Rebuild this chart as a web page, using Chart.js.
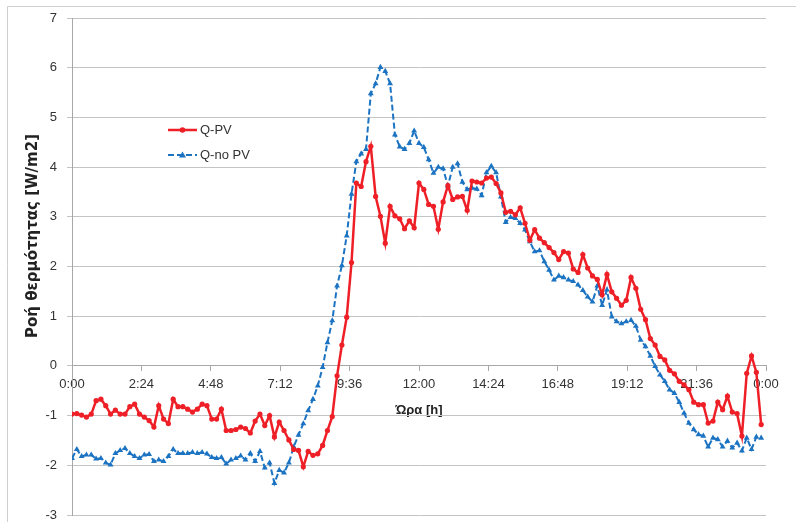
<!DOCTYPE html>
<html lang="el">
<head>
  <meta charset="UTF-8" />
  <title>Ροή θερμότητας</title>
  <script src="https://cdn.jsdelivr.net/npm/chart.js"></script>
  <style>
    html, body { margin: 0; padding: 0; background: #fff; }
    #wrap { width: 796px; height: 522px; }
  </style>
</head>
<body>
  <div id="wrap"><canvas id="chart" width="796" height="522"></canvas></div>

  <script>
    // time of day in minutes, one sample every 10 min
    const step = 10;
    const minutes = Array.from({ length: 144 }, (_, i) => i * step);

    const xTickValues = [0, 144, 288, 432, 576, 720, 864, 1008, 1152, 1296, 1440];
    const xTickLabels = ["0:00", "2:24", "4:48", "7:12", "9:36", "12:00", "14:24", "16:48", "19:12", "21:36", "0:00"];

    const qPV = [
      -0.97, -0.96, -0.99, -1.03, -0.97, -0.70, -0.67, -0.80, -0.97, -0.89,
      -0.97, -0.97, -0.82, -0.77, -0.97, -1.03, -1.10, -1.23, -0.80, -1.07,
      -1.16, -0.67, -0.82, -0.82, -0.87, -0.93, -0.87, -0.77, -0.80, -1.07,
      -1.07, -0.87, -1.30, -1.30, -1.28, -1.23, -1.26, -1.35, -1.11, -0.97,
      -1.20, -1.00, -1.43, -1.13, -1.30, -1.49, -1.68, -1.70, -2.03, -1.72,
      -1.80, -1.77, -1.60, -1.30, -1.02, -0.20, 0.42, 0.98, 2.08, 3.68,
      3.61, 4.11, 4.42, 3.41, 3.01, 2.47, 3.21, 3.02, 2.96, 2.76,
      2.92, 2.78, 3.68, 3.55, 3.25, 3.21, 2.75, 3.30, 3.63, 3.35,
      3.40, 3.41, 3.13, 3.72, 3.70, 3.68, 3.78, 3.80, 3.67, 3.48,
      3.09, 3.11, 3.04, 3.18, 2.87, 2.53, 2.74, 2.57, 2.48, 2.38,
      2.28, 2.14, 2.30, 2.27, 1.95, 1.88, 2.24, 1.97, 1.81, 1.74,
      1.43, 1.84, 1.49, 1.36, 1.22, 1.32, 1.78, 1.56, 1.14, 0.93,
      0.55, 0.42, 0.19, 0.12, -0.09, -0.16, -0.31, -0.38, -0.48, -0.73,
      -0.78, -0.78, -1.15, -1.11, -0.73, -0.88, -0.61, -0.93, -0.96, -1.41,
      -0.15, 0.20, -0.13, -1.18
    ];

    const qNoPV = [
      -1.86, -1.68, -1.82, -1.79, -1.79, -1.87, -1.86, -1.95, -1.99, -1.76,
      -1.70, -1.66, -1.76, -1.82, -1.86, -1.79, -1.78, -1.92, -1.89, -1.92,
      -1.82, -1.68, -1.76, -1.76, -1.76, -1.74, -1.76, -1.74, -1.77, -1.84,
      -1.86, -1.84, -1.97, -1.89, -1.86, -1.81, -1.89, -1.76, -1.92, -1.72,
      -2.05, -1.95, -2.36, -2.10, -2.15, -1.95, -1.63, -1.39, -1.16, -0.90,
      -0.67, -0.40, -0.03, 0.47, 0.91, 1.61, 2.02, 2.62, 3.46, 4.11,
      4.27, 4.36, 5.48, 5.68, 6.01, 5.93, 5.68, 4.65, 4.41, 4.36,
      4.48, 4.73, 4.48, 4.40, 4.15, 3.88, 4.00, 3.97, 3.62, 4.00,
      4.07, 3.70, 3.55, 3.58, 3.56, 3.43, 3.89, 4.02, 3.89, 3.40,
      2.89, 2.99, 2.97, 2.87, 2.74, 2.50, 2.30, 2.32, 2.10, 1.93,
      1.73, 1.81, 1.78, 1.73, 1.70, 1.63, 1.52, 1.39, 1.29, 1.61,
      1.22, 1.53, 0.99, 0.89, 0.85, 0.89, 0.92, 0.80, 0.52, 0.39,
      0.20, -0.01, -0.18, -0.31, -0.48, -0.55, -0.73, -0.95, -1.15, -1.28,
      -1.38, -1.41, -1.63, -1.45, -1.48, -1.63, -1.51, -1.65, -1.55, -1.71,
      -1.45, -1.68, -1.43, -1.45
    ];

    const seriesNames = ["Q-PV", "Q-no PV"];
    const yTitle = "Ροή θερμότητας [W/m2]";
    const xTitle = "Ώρα [h]";

    const red = "#ee1f26";
    const blue = "#1b73c2";
    const gridColor = "#c4c4c4";
    const textColor = "#333333";

    Chart.defaults.font.family = "'Liberation Sans', Arial, sans-serif";
    Chart.defaults.font.size = 13;
    Chart.defaults.color = textColor;

    const toPoints = vals => vals.map((v, i) => ({ x: minutes[i], y: v }));

    // white page + grey frame (only top and left edges are inside the picture)
    const frame = {
      id: "frame",
      beforeDraw(chart) {
        const ctx = chart.ctx;
        ctx.save();
        ctx.fillStyle = "#fff";
        ctx.fillRect(0, 0, chart.width, chart.height);
        ctx.strokeStyle = "#cfcfcf";
        ctx.lineWidth = 1;
        ctx.beginPath();
        ctx.moveTo(7.5, chart.height);
        ctx.lineTo(7.5, 6.5);
        ctx.lineTo(chart.width, 6.5);
        ctx.stroke();
        ctx.restore();
      }
    };

    // y title drawn by hand: in the original it sits above the axis centre
    const sideTitle = {
      id: "sideTitle",
      afterDraw(chart) {
        const ctx = chart.ctx;
        ctx.save();
        ctx.translate(33, 236);
        ctx.rotate(-Math.PI / 2);
        ctx.font = "bold 15px 'DejaVu Sans', sans-serif";
        ctx.fillStyle = "#222";
        ctx.textAlign = "center";
        ctx.textBaseline = "middle";
        ctx.fillText(yTitle, 0, 0);
        ctx.restore();
      }
    };

    // legend sits inside the plot, Excel style
    const innerLegend = {
      id: "innerLegend",
      afterDraw(chart) {
        const ctx = chart.ctx;
        const x0 = 168, x1 = 197, tx = 200;
        const rows = [130, 155];
        ctx.save();
        chart.data.datasets.forEach((ds, k) => {
          const y = rows[k];
          ctx.strokeStyle = ds.borderColor;
          ctx.lineWidth = ds.borderWidth;
          ctx.setLineDash(ds.borderDash || []);
          ctx.beginPath();
          ctx.moveTo(x0, y);
          ctx.lineTo(x1, y);
          ctx.stroke();
          ctx.setLineDash([]);
          ctx.fillStyle = ds.borderColor;
          const mx = (x0 + x1) / 2;
          if (ds.pointStyle === "triangle") {
            ctx.beginPath();
            ctx.moveTo(mx, y - 3.5);
            ctx.lineTo(mx + 3.5, y + 2.5);
            ctx.lineTo(mx - 3.5, y + 2.5);
            ctx.closePath();
            ctx.fill();
          } else {
            ctx.beginPath();
            ctx.arc(mx, y, 2.8, 0, Math.PI * 2);
            ctx.fill();
          }
          ctx.fillStyle = textColor;
          ctx.font = "13px " + Chart.defaults.font.family;
          ctx.textBaseline = "middle";
          ctx.textAlign = "left";
          ctx.fillText(ds.label, tx, y);
        });
        ctx.restore();
      }
    };

    new Chart(document.getElementById("chart"), {
      type: "line",
      data: {
        datasets: [
          {
            label: seriesNames[0],
            data: toPoints(qPV),
            borderColor: red,
            backgroundColor: red,
            borderWidth: 2.5,
            pointStyle: "circle",
            pointRadius: 2.6,
            pointBorderWidth: 0,
            tension: 0
          },
          {
            label: seriesNames[1],
            data: toPoints(qNoPV),
            borderColor: blue,
            backgroundColor: blue,
            borderWidth: 2,
            borderDash: [6, 3],
            pointStyle: "triangle",
            pointRadius: 3.4,
            pointBorderWidth: 0,
            tension: 0
          }
        ]
      },
      options: {
        responsive: false,
        animation: false,
        layout: { padding: { left: 14, right: 30, top: 18, bottom: 7 } },
        plugins: {
          legend: { display: false },
          tooltip: { enabled: false }
        },
        scales: {
          x: {
            type: "linear",
            min: 0,
            max: 1440,
            position: { y: 0 },
            afterBuildTicks: s => { s.ticks = xTickValues.map(v => ({ value: v })); },
            afterFit: s => { s.paddingTop = 0; s.paddingBottom = 0; },
            ticks: {
              autoSkip: false,
              maxRotation: 0,
              padding: 6,
              color: textColor,
              callback: (v, i) => xTickLabels[i]
            },
            grid: {
              drawOnChartArea: false,
              drawTicks: true,
              tickLength: 5,
              color: "#a8a8a8"
            },
            border: { color: "#a8a8a8" },
            title: {
              display: true,
              text: xTitle,
              font: { weight: "bold", size: 13 },
              padding: { top: 4, bottom: 0 },
              color: "#222"
            }
          },
          y: {
            min: -3,
            max: 7,
            afterFit: s => { s.width = 58; s.paddingTop = 0; s.paddingBottom = 0; },
            ticks: { stepSize: 1, padding: 10, color: textColor },
            grid: { color: gridColor, tickLength: 5 },
            border: { color: "#a8a8a8" },
            title: { display: false }
          }
        }
      },
      plugins: [frame, sideTitle, innerLegend]
    });
  </script>
</body>
</html>
